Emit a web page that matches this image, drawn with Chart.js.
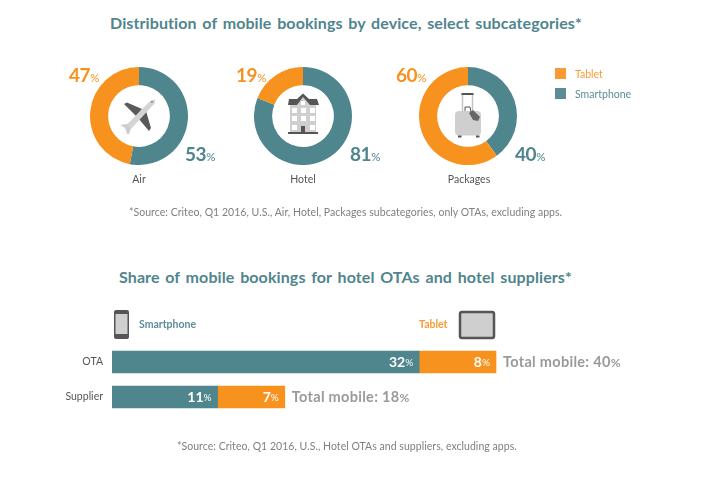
<!DOCTYPE html>
<html lang="en">

<head>
    <meta charset="UTF-8">
    <title>Mobile bookings</title>
    <style>
        html, body { margin: 0; padding: 0; background: #fff; }
        body { position: relative; width: 721px; height: 482px; overflow: hidden; font-family: Lato, sans-serif; }
        canvas, svg, .t { position: absolute; }
        .t { white-space: nowrap; line-height: 1; transform: translateY(-50%); }
        .title { color: #4f858d; font-size: 16px; font-weight: 700; letter-spacing: 0.1px; word-spacing: 1.7px; }
        .name { color: #555; font-size: 10.5px; transform: translate(-50%, -50%); }
        .source { color: #808080; font-size: 10.5px; letter-spacing: 0.04px; }
        .pct { font-size: 19px; font-weight: 700; letter-spacing: -0.4px; }
        .pct small { font-size: 11.5px; font-weight: 400; }
        .total { color: #9a9a9a; font-size: 14.5px; font-weight: 700; letter-spacing: 0.3px; }
        .total small { font-size: 12px; font-weight: 700; }
        .key { font-size: 10.5px; font-weight: 700; }
        .box { position: absolute; width: 11px; height: 11px; }
    </style>
</head>

<body>
    <div class="t title" style="left:110px; top:23px;">Distribution of mobile bookings by device, select subcategories*</div>
    <div class="t title" style="left:119px; top:277px;">Share of mobile bookings for hotel OTAs and hotel suppliers*</div>

    <canvas id="donutAir" width="98" height="98" style="left:90px; top:67px;"></canvas>
    <canvas id="donutHotel" width="98" height="98" style="left:254px; top:67px;"></canvas>
    <canvas id="donutPackages" width="98" height="98" style="left:419px; top:67px;"></canvas>
    <canvas id="barChart" width="721" height="72" style="left:0; top:343px;"></canvas>

    <!-- icons -->
    <svg width="721" height="482" style="left:0; top:0;">
        <g>
            <path d="M124 104 L127 102.5 L142 109 L136 116 Z" fill="#5a5a5a" />
            <path d="M149 131 L151 128 L146 111 L138 118 Z" fill="#5a5a5a" />
            <path d="M120 125 L130 123.5 L131 128 L129 134 L127 134 L125 128 Z" fill="#cdcdcd" />
            <path d="M154 99.5 C155.5 99.5 155.5 102 154.5 103.5 L131 129 L126.5 125 L149.5 101.5 C151 100.5 152.5 99.5 154 99.5 Z" fill="#d4d4d4" />
            <circle cx="152" cy="102" r="1" fill="#888" />
        </g>
        <g>
            <rect x="290" y="105" width="26" height="27" fill="#cfcfcf" />
            <path d="M288 105 L289 99 L297 99 L303 93.5 L309 99 L317 99 L319 105 Z" fill="#555" />
            <path d="M297 105 L303 97 L310 105 Z" fill="#cfcfcf" />
            <rect x="301" y="101" width="4" height="4" fill="#fff" />
            <g fill="#fff">
                <rect x="292" y="108" width="5" height="5" /><rect x="301" y="108" width="5" height="5" /><rect x="310" y="108" width="5" height="5" />
                <rect x="292" y="116" width="5" height="5" /><rect x="301" y="116" width="5" height="5" /><rect x="310" y="116" width="5" height="5" />
                <rect x="292" y="125" width="5" height="5" /><rect x="310" y="125" width="5" height="5" />
            </g>
            <rect x="301" y="126" width="4" height="6" fill="#555" />
            <rect x="288" y="132" width="30" height="2" fill="#555" />
        </g>
        <g>
            <path d="M462.5 111 L462.5 94 M472.5 111 L472.5 94" fill="none" stroke="#c4c4c4" stroke-width="1.5" />
            <rect x="461.5" y="93" width="12" height="2" fill="#555" />
            <rect x="455" y="111" width="26" height="24.5" rx="4" fill="#cfcfcf" />
            <rect x="458" y="135.5" width="3.5" height="2" fill="#555" />
            <rect x="476" y="135.5" width="3.5" height="2" fill="#555" />
            <path d="M465 111 L465 107 L470 107 L471 112" fill="none" stroke="#555" stroke-width="1" />
            <path d="M469 113 L473 110 L480 117 L478 121 L473 120 Z" fill="#666" />
        </g>
        <g>
            <rect x="114" y="310" width="15" height="29" rx="2" fill="#555" />
            <rect x="115.5" y="314" width="12" height="20" fill="#cfcfcf" />
        </g>
        <g>
            <rect x="460" y="312" width="34" height="26" rx="2" fill="#cfcfcf" stroke="#555" stroke-width="2.5" />
        </g>
    </svg>

    <div id="labels"></div>

    <div class="box" style="left:555px; top:68px; background:#fb9a35;"></div>
    <div class="box" style="left:555px; top:88px; background:#5c8d95;"></div>
    <div class="t" style="left:575px; top:73.5px; color:#fb9a35; font-size:10.5px;">Tablet</div>
    <div class="t" style="left:575px; top:93.5px; color:#5c8d95; font-size:10.5px;">Smartphone</div>

    <div class="t key" style="left:139px; top:324px; color:#5c8d95;">Smartphone</div>
    <div class="t key" style="left:419px; top:324px; color:#fb9a35;">Tablet</div>

    <div class="t source" style="left:129px; top:212px;">*Source: Criteo, Q1 2016, U.S., Air, Hotel, Packages subcategories, only OTAs, excluding apps.</div>
    <div class="t source" style="left:177px; top:446px;">*Source: Criteo, Q1 2016, U.S., Hotel OTAs and suppliers, excluding apps.</div>

    <script src="https://cdn.jsdelivr.net/npm/chart.js"></script>

    <script>

        const TEAL = "#4f858d";
        const ORANGE = "#f7921e";

        // donuts
        const donutNames = ["Air", "Hotel", "Packages"];
        const donutSmartphone = [53, 81, 40];
        const donutTablet = [47, 19, 60];

        // bars
        const barCategories = ["OTA", "Supplier"];
        const barSmartphone = [32, 11];
        const barTablet = [8, 7];
        const barTotals = [40, 18];

        const donutIds = ["donutAir", "donutHotel", "donutPackages"];
        const nameX = [139, 303, 469];
        const tabletLabelX = [69, 236, 396];
        const phoneLabelX = [185, 350, 515];

        function addLabel(html, cls, left, top, color) {
            const el = document.createElement("div");
            el.className = "t " + cls;
            el.innerHTML = html;
            el.style.left = left + "px";
            el.style.top = top + "px";
            if (color) el.style.color = color;
            document.getElementById("labels").appendChild(el);
            return el;
        }

        donutNames.forEach((name, i) => {
            new Chart(donutIds[i], {
                type: "doughnut",
                data: {
                    labels: ["Smartphone", "Tablet"],
                    datasets: [{
                        data: [donutSmartphone[i], donutTablet[i]],
                        backgroundColor: [TEAL, ORANGE],
                        borderWidth: 0
                    }]
                },
                options: {
                    responsive: false,
                    animation: false,
                    cutout: "63%",
                    events: [],
                    plugins: { legend: { display: false }, tooltip: { enabled: false } }
                }
            });
            addLabel(name, "name", nameX[i], 179);
            addLabel(donutTablet[i] + "<small>%</small>", "pct", tabletLabelX[i], 74, ORANGE);
            addLabel(donutSmartphone[i] + "<small>%</small>", "pct", phoneLabelX[i], 153, TEAL);
        });

        // white values inside the bars, totals to the right
        const barText = {
            id: "barText",
            afterDatasetsDraw(chart) {
                const ctx = chart.ctx;
                ctx.save();
                ctx.textBaseline = "middle";
                ctx.textAlign = "right";
                ctx.fillStyle = "#fff";
                chart.data.datasets.forEach((ds, d) => {
                    chart.getDatasetMeta(d).data.forEach((bar, i) => {
                        ctx.font = "400 10px Lato";
                        const w = ctx.measureText("%").width;
                        ctx.fillText("%", bar.x - 6, bar.y + 1);
                        ctx.font = "700 14px Lato";
                        ctx.fillText(ds.data[i], bar.x - 6 - w, bar.y);
                    });
                });
                ctx.restore();
            }
        };

        const barChart = new Chart("barChart", {
            type: "bar",
            data: {
                labels: barCategories,
                datasets: [
                    { label: "Smartphone", data: barSmartphone, backgroundColor: TEAL, barThickness: 22 },
                    { label: "Tablet", data: barTablet, backgroundColor: ORANGE, barThickness: 22 }
                ]
            },
            options: {
                indexAxis: "y",
                responsive: false,
                animation: false,
                events: [],
                layout: { padding: { top: 1.5, bottom: 0.5, right: 33 } },
                scales: {
                    x: { stacked: true, display: false, min: 0, max: 60 },
                    y: {
                        stacked: true,
                        // tick padding would otherwise shrink the axis height too
                        afterFit(scale) {
                            scale.width = 112;
                            scale.paddingTop = 0;
                            scale.paddingBottom = 0;
                        },
                        grid: { display: false, drawTicks: false },
                        border: { display: false },
                        ticks: { color: "#555", padding: 9, font: { family: "Lato", size: 10.5 } }
                    }
                },
                plugins: { legend: { display: false }, tooltip: { enabled: false } }
            },
            plugins: [barText]
        });

        barTotals.forEach((total, i) => {
            const end = barChart.getDatasetMeta(1).data[i];
            addLabel("Total mobile: " + total + "<small>%</small>", "total", end.x + 7, 343 + end.y);
        });

    </script>
</body>

</html>
